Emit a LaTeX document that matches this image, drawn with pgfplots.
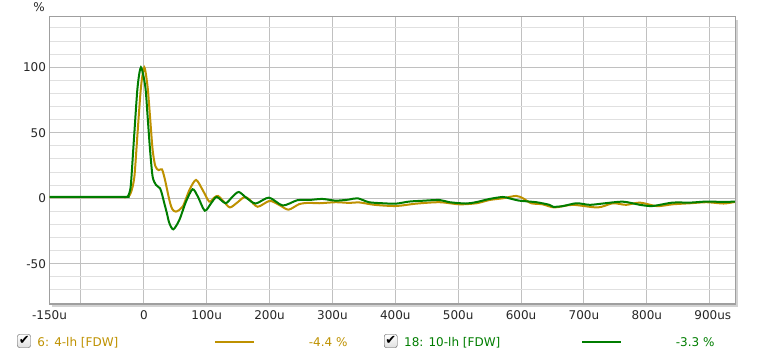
\documentclass[border=0pt]{standalone}
\usepackage{fontspec}
\setmainfont{DejaVu Sans}
\usepackage{pgfplots}
\pgfplotsset{compat=1.18}
\definecolor{gold}{RGB}{190,145,0}
\definecolor{dgreen}{RGB}{0,125,0}
\definecolor{majgrid}{RGB}{192,192,192}
\definecolor{mingrid}{RGB}{224,224,224}
\newcommand{\fs}{\fontsize{12bp}{14bp}\selectfont}
\begin{document}
\begin{tikzpicture}[x=1bp,y=1bp]
\useasboundingbox (0,0) rectangle (760,356);
\begin{axis}[at={(49.5bp,52bp)}, anchor=south west, scale only axis,
  width=686bp, height=287.3bp,
  xmin=-150, xmax=941, ymin=-80.7, ymax=138.6,
  xtick={-150,-100,0,100,200,300,400,500,600,700,800,900},
  xticklabels={-150u,,0,100u,200u,300u,400u,500u,600u,700u,800u,900u\rlap{s}},
  ytick={-50,0,50,100}, yticklabels={-50,0,50,100},
  minor ytick={-80,-70,-60,-40,-30,-20,-10,10,20,30,40,60,70,80,90,110,120,130},
  xmajorgrids, ymajorgrids, yminorgrids,
  major grid style={majgrid, line width=1bp},
  minor grid style={mingrid, line width=1bp},
  major tick length=0, minor tick length=0,
  tick label style={font=\fs, text=black!85},
  xticklabel style={yshift=-3bp},
  /pgf/number format/assume math mode=true,
  axis line style={draw=gray!75, line width=1.2bp},
]
\addplot[gold, line width=2bp, smooth, tension=0.45] coordinates {
(-150,0.8) (-40,0.8) (-28,0.8) (-24,1.5) (-20,5) (-15,16.5) (-10,49.6) (-4.5,85) (0.8,100) (6,85) (9.9,62) (14,37) (18.3,24.5) (23.6,21.5) (28.9,22) (33.7,14) (40.6,-1.3) (45,-8) (51,-10.2) (61.8,-6.4) (72.5,6.3) (83,14) (93.6,6.3) (104,-2.5) (112,0.5) (118,1.8) (128,-3) (137,-7) (148,-3.5) (160,1) (168,-1) (181,-6.5) (200,-2) (215,-5) (230,-8.7) (247,-4.5) (262,-3.5) (279,-3.8) (305,-3) (326,-3.5) (343,-3.2) (367,-5) (401,-5.9) (433,-4.1) (470,-3) (502,-4.6) (529,-3.8) (550,-1.3) (571,0) (592,1.8) (603,0) (616,-3.8) (634,-4.6) (653,-7) (682,-5) (722,-7) (746,-3.8) (767,-5) (789,-3.3) (816,-6) (841,-4.6) (869,-3.8) (895,-3) (922,-4) (940,-2.8)
};
\addplot[dgreen, line width=2bp, smooth, tension=0.45] coordinates {
(-150,1) (-30,1) (-26,1.2) (-23,4) (-20.4,11.5) (-15.1,49.6) (-9.9,85) (-4.5,100) (2.4,85) (6.1,62) (9.9,37) (14,16.5) (19.4,10.2) (25.8,7.6) (29,3) (32.6,-3.8) (36.5,-11) (40.6,-19) (47,-23.7) (56.5,-16.6) (67,-2.6) (77.6,6.9) (86,1.2) (97,-9.5) (107,-3.8) (116,1) (130,-3.8) (141,1.2) (151,4.8) (164,0) (178,-4) (199,0.5) (221,-5.5) (244,-1.5) (263,-1.3) (284,-0.5) (305,-1.8) (326,-1) (340,0) (358,-3) (380,-3.8) (401,-4.1) (422,-2.5) (443,-1.9) (470,-1.3) (486,-3) (512,-4) (528,-3) (550,-0.5) (571,1) (581,0) (597,-1.8) (624,-3) (645,-5) (651,-6.5) (666,-6) (688,-3.8) (709,-5) (730,-4) (762,-2.6) (789,-5) (809,-5.9) (841,-3.3) (869,-3.3) (895,-2.5) (922,-2.8) (940,-2.5)
};
\end{axis}
\draw[gray!35, line width=2bp] (52,50.4) -- (737.1,50.4) -- (737.1,336);
\node[font=\fs, text=black!85] at (39,349.3) {\%};
% legend
\draw[rounded corners=2bp, draw=gray!60!black, top color=white, bottom color=gray!25] (17.5,8.5) rectangle (30.5,21.5);
\node[font=\fontsize{13bp}{14bp}\selectfont] at (24.2,15.2) {✔};
\node[font=\fs, text=gold, anchor=base west, inner sep=0] at (37.3,10) {6: 4-lh [FDW]};
\draw[gold, line width=2bp] (215,14.3) -- (254,14.3);
\node[font=\fs, text=gold, anchor=base west, inner sep=0] at (308.7,10) {-4.4 \%};
\draw[rounded corners=2bp, draw=gray!60!black, top color=white, bottom color=gray!25] (384.2,8.5) rectangle (397.2,21.5);
\node[font=\fontsize{13bp}{14bp}\selectfont] at (390.9,15.2) {✔};
\node[font=\fs, text=dgreen, anchor=base west, inner sep=0] at (404,10) {18: 10-lh [FDW]};
\draw[dgreen, line width=2bp] (582.3,14.3) -- (620.7,14.3);
\node[font=\fs, text=dgreen, anchor=base west, inner sep=0] at (675.7,10) {-3.3 \%};
\end{tikzpicture}
\end{document}
